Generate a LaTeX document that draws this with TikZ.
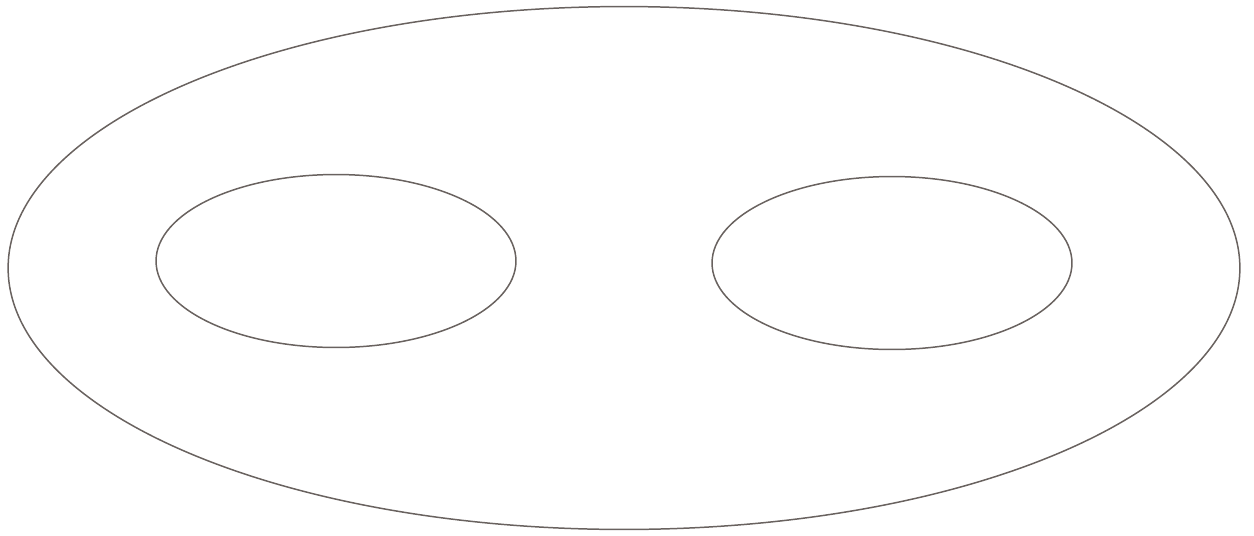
\documentclass[tikz,border=0pt]{standalone}
\usetikzlibrary{shapes.geometric}
\definecolor{rim}{RGB}{105,98,95}
\begin{document}
\begin{tikzpicture}[x=.02cm,y=-.02cm,
  ring/.style={draw=rim,line width=.85pt,ellipse,inner sep=0pt}]
\useasboundingbox (0,0) rectangle (1254,535);
\node[ring,minimum width=24.64cm,minimum height=10.46cm] (outer) at (624,268) {};
\foreach \nm/\cx/\cy in {holeL/336/261,holeR/892/263}{\node[ring,minimum width=7.2cm,minimum height=3.46cm] (\nm) at (\cx,\cy) {};}
\end{tikzpicture}
\end{document}
